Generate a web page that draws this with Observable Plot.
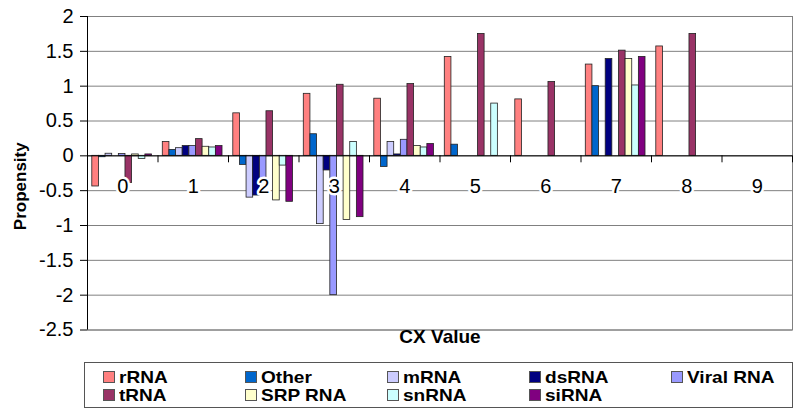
<!DOCTYPE html>
<html>
<head>
<meta charset="utf-8">
<script src="https://cdn.jsdelivr.net/npm/d3@7"></script>
<script src="https://cdn.jsdelivr.net/npm/@observablehq/plot@0.6"></script>
<style>
  html, body { margin: 0; padding: 0; background: #fff; }
  body { width: 800px; height: 415px; position: relative; font-family: "Liberation Sans", Arial, sans-serif; overflow: hidden; }
  #chart { position: absolute; left: 0; top: 0; }
  #legend { position: absolute; left: 84px; top: 362px; width: 707px; height: 44px; border: 1px solid #555; box-sizing: content-box; }
  #legend .grid { display: grid; grid-template-columns: repeat(5, 142px); grid-auto-rows: 18.5px; padding-left: 18px; padding-top: 4.5px; }
  #legend .item { display: flex; align-items: center; font-weight: bold; font-size: 16.3px; line-height: 18px; color: #000; white-space: nowrap; }
  #legend .sw { width: 10px; height: 10px; border: 1px solid #555; margin-right: 4px; flex: none; }
  #legend .lbl { display: inline-block; transform: scaleX(1.17); transform-origin: left center; }
</style>
</head>
<body>
<div id="chart"></div>
<div id="legend"><div class="grid"></div></div>
<script>
// ---- data ----
const cxValues = [0, 1, 2, 3, 4, 5, 6, 7, 8, 9];
const seriesNames = ["rRNA", "Other", "mRNA", "dsRNA", "Viral RNA", "tRNA", "SRP RNA", "snRNA", "siRNA"];
const seriesColors = ["#FF8080", "#0066CC", "#CCCCFF", "#000080", "#9999FF", "#993366", "#FFFFCC", "#CCFFFF", "#800080"];
const rRNA    = [-0.44, 0.20, 0.61, 0.89, 0.82, 1.42, 0.81, 1.31, 1.57, 0];
const other   = [-0.02, 0.085, -0.13, 0.31, -0.16, 0.16, 0, 1.00, 0, 0];
const mRNA    = [0.03, 0.11, -0.60, -0.98, 0.20, 0, 0, 0, 0, 0];
const dsRNA   = [0, 0.14, -0.57, -0.21, 0.02, 0, 0, 1.39, 0, 0];
const viral   = [0.025, 0.14, -0.35, -2.00, 0.23, 0, 0, 0, 0, 0];
const tRNA    = [-0.39, 0.24, 0.64, 1.02, 1.03, 1.75, 1.06, 1.51, 1.75, 0];
const srpRNA  = [0.02, 0.13, -0.64, -0.92, 0.14, 0, 0, 1.39, 0, 0];
const snRNA   = [-0.045, 0.12, -0.14, 0.20, 0.12, 0.75, 0, 1.01, 0, 0];
const siRNA   = [0.02, 0.14, -0.66, -0.88, 0.17, 0, 0, 1.42, 0, 0];
const yTicks = [-2.5, -2, -1.5, -1, -0.5, 0, 0.5, 1, 1.5, 2];
const yTickLabels = ["-2.5", "-2", "-1.5", "-1", "-0.5", "0", "0.5", "1", "1.5", "2"];
const xTitle = "CX Value";
const yTitle = "Propensity";

const seriesValues = [rRNA, other, mRNA, dsRNA, viral, tRNA, srpRNA, snRNA, siRNA];
const rows = [];
seriesNames.forEach((s, si) => {
  cxValues.forEach((cx, ci) => {
    const v = seriesValues[si][ci];
    if (v !== 0) rows.push({cx, series: s, si, value: v});
  });
});

// group layout in category units
const padL = 0.068, padR = 0.085;
const bw = (1 - padL - padR) / seriesNames.length;
const boundaries = cxValues.map(c => c + 0.5);

const font = '"Liberation Sans", Arial, sans-serif';

const plot = Plot.plot({
  width: 800,
  height: 352,
  marginLeft: 87,
  marginRight: 8,
  marginTop: 16,
  marginBottom: 22.5,
  style: {fontFamily: font, color: "#000", background: "#fff"},
  x: {domain: [-0.5, 9.5], axis: null},
  y: {domain: [-2.5, 2], axis: null},
  color: {domain: seriesNames, range: seriesColors},
  marks: [
    Plot.ruleY(yTicks, {stroke: "#808080", strokeWidth: 1}),
    Plot.frame({stroke: "#808080"}),
    Plot.rectY(rows, {
      x1: d => d.cx - 0.5 + padL + d.si * bw,
      x2: d => d.cx - 0.5 + padL + (d.si + 1) * bw,
      y: "value",
      fill: "series",
      stroke: "#222",
      strokeWidth: 0.8
    }),
    Plot.ruleY([0], {stroke: "#000", strokeWidth: 1}),
    Plot.ruleX(boundaries, {y1: 0, y2: -0.1, stroke: "#000"}),
    Plot.ruleX([-0.5], {stroke: "#000", strokeWidth: 1}),
    Plot.axisY({
      ticks: yTicks,
      tickFormat: d => yTickLabels[yTicks.indexOf(d)],
      tickSize: 7,
      tickPadding: 7,
      fontSize: 20,
      label: null,
      stroke: "#000"
    }),
    Plot.text(cxValues, {
      x: d => d, y: 0, dy: 31,
      text: d => String(d),
      fontSize: 20,
      fill: "#000",
      stroke: "#fff",
      strokeWidth: 5,
      paintOrder: "stroke"
    }),
    Plot.text([xTitle], {
      frameAnchor: "bottom",
      dy: 13,
      text: d => d,
      fontSize: 19,
      fontWeight: "bold",
      fill: "#000"
    }),
    Plot.text([yTitle], {
      frameAnchor: "left",
      textAnchor: "middle",
      dx: -67,
      dy: 13,
      rotate: -90,
      text: d => d,
      fontSize: 17,
      fontWeight: "bold",
      fill: "#000"
    })
  ]
});
document.getElementById("chart").appendChild(plot);

// legend (row-major like Excel)
const grid = d3.select("#legend .grid");
seriesNames.forEach((s, i) => {
  const it = grid.append("div").attr("class", "item");
  it.append("span").attr("class", "sw").style("background", seriesColors[i]);
  it.append("span").attr("class", "lbl").text(s);
});
</script>
</body>
</html>
